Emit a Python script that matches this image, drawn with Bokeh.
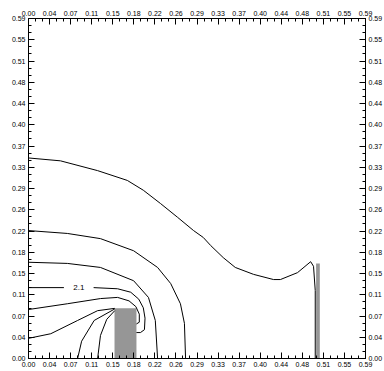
from bokeh.plotting import figure
from bokeh.models import Range1d, LinearAxis, FixedTicker
from bokeh.embed import file_html
from bokeh.resources import INLINE
from bokeh.core.properties import value

# ---- data ----
XMAX = 0.59
YMAX = 0.59
tick_labels = ["0.00", "0.04", "0.07", "0.11", "0.15", "0.18", "0.22", "0.26", "0.29",
               "0.33", "0.37", "0.40", "0.44", "0.48", "0.51", "0.55", "0.59"]

c1_x = [0.0, 0.056, 0.121, 0.173, 0.201, 0.231, 0.261, 0.289, 0.306, 0.319, 0.341, 0.362,
        0.394, 0.429, 0.441, 0.471, 0.494, 0.499, 0.502, 0.502]
c1_y = [0.348, 0.343, 0.326, 0.309, 0.292, 0.269, 0.245, 0.222, 0.210, 0.196, 0.175, 0.158,
        0.146, 0.137, 0.137, 0.149, 0.168, 0.160, 0.118, 0.0]

c2_x = [0.0, 0.068, 0.126, 0.184, 0.226, 0.249, 0.266, 0.273, 0.275]
c2_y = [0.222, 0.217, 0.208, 0.187, 0.158, 0.130, 0.095, 0.061, 0.0]

c3_x = [0.0, 0.068, 0.126, 0.184, 0.210, 0.222, 0.226]
c3_y = [0.167, 0.165, 0.158, 0.135, 0.106, 0.066, 0.0]

c4_x = [0.0, 0.062, float("nan"), 0.114, 0.156, 0.179, 0.193, 0.201, 0.204, 0.203, 0.196, 0.189]
c4_y = [0.123, 0.123, float("nan"), 0.123, 0.121, 0.115, 0.103, 0.088, 0.070, 0.050, 0.045, 0.045]

c5_x = [0.0, 0.068, 0.126, 0.156, 0.176, 0.188, 0.194, 0.194, 0.189]
c5_y = [0.085, 0.095, 0.104, 0.106, 0.100, 0.090, 0.077, 0.063, 0.060]

c6_x = [0.0, 0.039, 0.086, 0.121, 0.151]
c6_y = [0.035, 0.043, 0.066, 0.083, 0.087]

c7_x = [0.086, 0.093, 0.115, 0.151]
c7_y = [0.0, 0.030, 0.066, 0.086]

c8_x = [0.121, 0.126, 0.137, 0.151]
c8_y = [0.0, 0.040, 0.068, 0.083]

label_text = ["2.1"]
label_x = [0.088]
label_y = [0.123]

bar_left = [0.1506, 0.5035]
bar_right = [0.189, 0.510]
bar_bottom = [0.0, 0.0]
bar_top = [0.087, 0.165]

# ---- figure ----
p = figure(frame_width=337, frame_height=340, output_backend="svg", toolbar_location=None,
           x_range=Range1d(0, XMAX), y_range=Range1d(0, YMAX),
           min_border_left=28, min_border_right=19, min_border_top=18, min_border_bottom=13,
           background_fill_color="white", border_fill_color="white")
p.grid.visible = False
p.outline_line_color = "black"

majors_x = [i * XMAX / 16 for i in range(17)]
minors_x = [i * XMAX / 48 for i in range(49)]
majors_y = [i * YMAX / 16 for i in range(17)]
minors_y = [i * YMAX / 48 for i in range(49)]

p.add_layout(LinearAxis(), "above")
p.add_layout(LinearAxis(), "right")

for ax in p.xaxis:
    ax.ticker = FixedTicker(ticks=majors_x, minor_ticks=minors_x)
    ax.major_label_overrides = {t: s for t, s in zip(majors_x, tick_labels)}
for ax in p.yaxis:
    ax.ticker = FixedTicker(ticks=majors_y, minor_ticks=minors_y)
    ax.major_label_overrides = {t: s for t, s in zip(majors_y, tick_labels)}

for ax in list(p.xaxis) + list(p.yaxis):
    ax.axis_line_color = "black"
    ax.major_tick_in = 6
    ax.major_tick_out = 0
    ax.minor_tick_in = 3
    ax.minor_tick_out = 0
    ax.major_tick_line_color = "black"
    ax.minor_tick_line_color = "black"
    ax.major_label_text_font = "Liberation Sans"
    ax.major_label_text_font_size = "7px"
    ax.major_label_text_color = "black"
    ax.major_label_standoff = 3
    ax.major_label_orientation = "horizontal"

p.quad(left=bar_left, right=bar_right, bottom=bar_bottom, top=bar_top,
       fill_color="#969696", line_color=None)

for xs, ys in [(c1_x, c1_y), (c2_x, c2_y), (c3_x, c3_y), (c4_x, c4_y), (c5_x, c5_y),
               (c6_x, c6_y), (c7_x, c7_y), (c8_x, c8_y)]:
    p.line(xs, ys, line_color="black", line_width=1)

p.text(x=label_x, y=label_y, text=label_text, text_font=value("Liberation Sans"),
       text_font_size="8px", text_align="center", text_baseline="middle", text_color="black")

open("out.html", "w").write(file_html(p, INLINE))
